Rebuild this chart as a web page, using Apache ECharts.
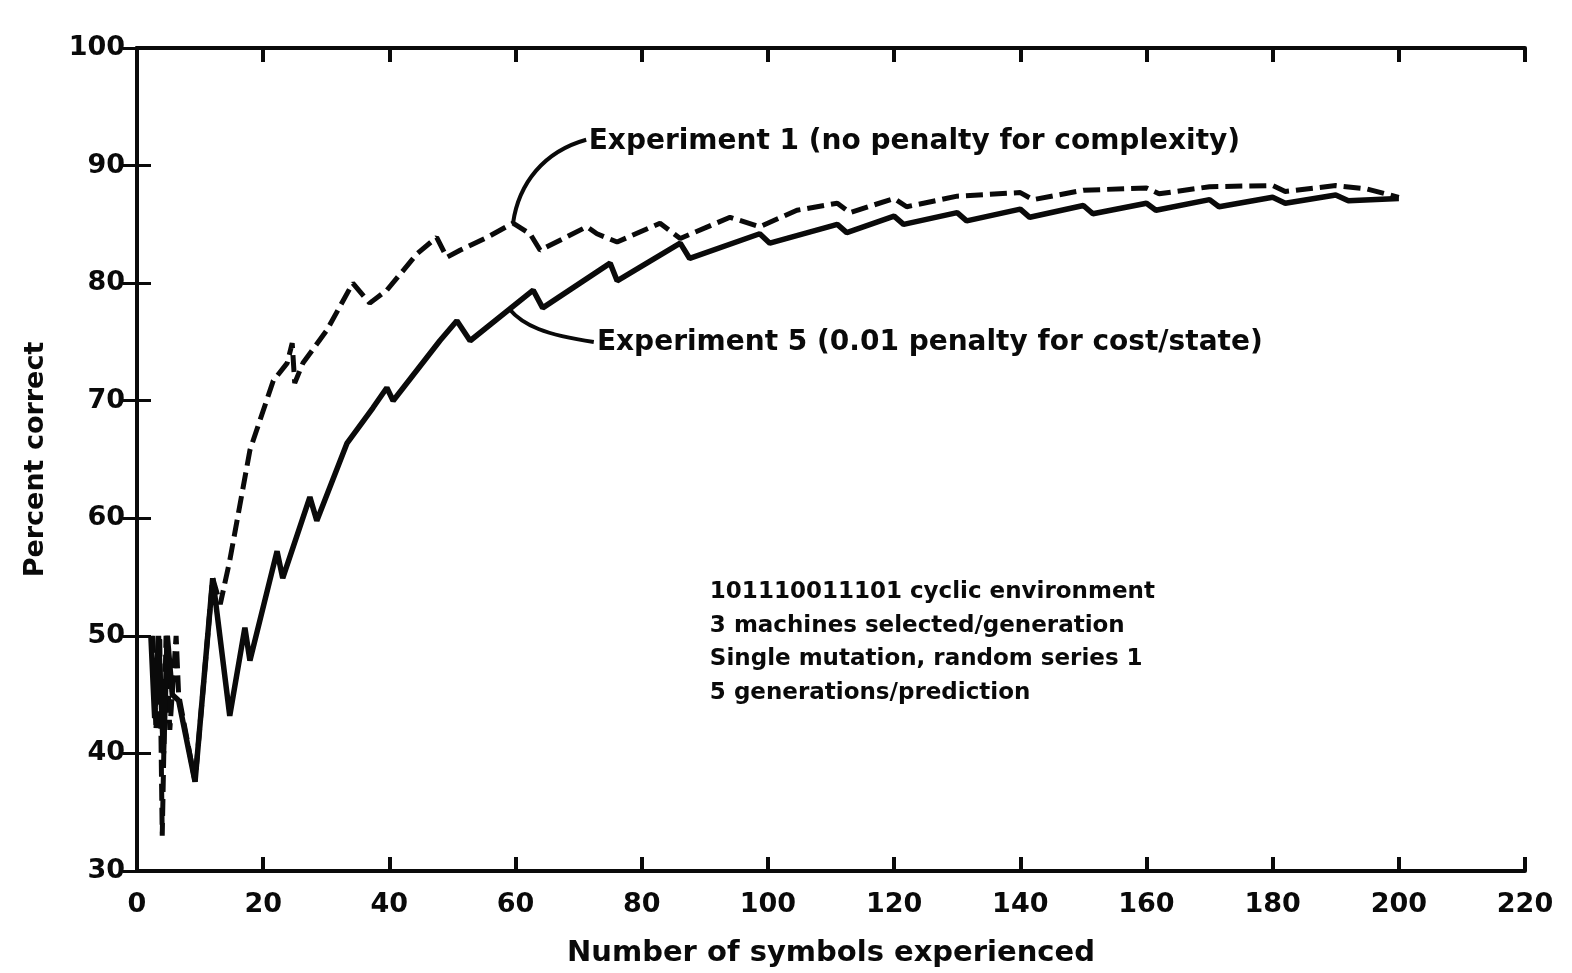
<!DOCTYPE html>
<html>
<head>
<meta charset="utf-8">
<script src="https://cdn.jsdelivr.net/npm/echarts@6/dist/echarts.min.js"></script>
<style>
  html, body { margin: 0; padding: 0; background: #fff; }
  #chart { width: 1572px; height: 973px; }
</style>
</head>
<body>
<div id="chart"></div>
<script>
// experiment 1 (dashed, no penalty)
const exp1X = [2.5, 3, 3.6, 4, 4.6, 5.2, 6.2, 6.6, 9.2, 12.0, 13.2, 14.7, 17.9, 21.6, 23.8, 24.6, 25.0, 26.3, 30.1, 34.2, 36.9, 39.6, 44.4, 47.5, 49.1, 51.2, 55.5, 59.6, 62.3, 63.9, 71.3, 72.9, 76.1, 82.9, 86.1, 94.0, 98.7, 104.6, 111, 113, 120, 122, 130, 140, 142, 150, 160, 162, 170, 180, 182, 190, 195, 200]
const exp1Y = [50, 42, 50, 33, 50, 42, 50, 45, 37.6, 54.9, 52.7, 56.4, 65.8, 71.7, 73.2, 74.9, 71.5, 73.2, 76.0, 80.0, 78.3, 79.4, 82.5, 83.9, 82.2, 82.8, 83.9, 85.1, 84.2, 82.8, 84.8, 84.2, 83.5, 85.1, 83.8, 85.6, 84.8, 86.2, 86.8, 86.0, 87.2, 86.5, 87.4, 87.7, 87.1, 87.9, 88.1, 87.6, 88.2, 88.3, 87.8, 88.3, 88.0, 87.3]

// experiment 5 (solid, 0.01 penalty)
const exp5X = [2.2, 2.8, 3.4, 4.2, 4.8, 5.6, 6.6, 9.2, 12.0, 14.7, 17.1, 17.9, 22.2, 23.1, 27.4, 28.5, 33.3, 37.4, 39.6, 40.6, 48.0, 50.7, 52.8, 62.8, 64.3, 75.0, 76.1, 86.1, 87.6, 98.7, 100.3, 111, 112.5, 120, 121.5, 130, 131.5, 140, 141.5, 150, 151.5, 160, 161.5, 170, 171.5, 180, 182, 190, 192, 200]
const exp5Y = [50, 43, 50, 40, 50, 45, 44.5, 37.6, 54.9, 43.2, 50.7, 47.9, 57.2, 54.9, 61.8, 59.8, 66.4, 69.4, 71.1, 70.0, 75.1, 76.8, 75.1, 79.4, 77.9, 81.7, 80.2, 83.4, 82.1, 84.2, 83.4, 85.0, 84.3, 85.7, 85.0, 86.0, 85.3, 86.3, 85.6, 86.6, 85.9, 86.8, 86.2, 87.1, 86.5, 87.3, 86.8, 87.5, 87.0, 87.2]

const xTicks = [0, 20, 40, 60, 80, 100, 120, 140, 160, 180, 200, 220]
const yTicks = [30, 40, 50, 60, 70, 80, 90, 100]

const noteLines = [
  '101110011101 cyclic environment',
  '3 machines selected/generation',
  'Single mutation, random series 1',
  '5 generations/prediction'
]

const FONT = 'DejaVu Sans'
const INK = '#0a0a0a'

const toPairs = (xs, ys) => xs.map((x, i) => [x, ys[i]])

let chartDom = document.getElementById('chart')
let chart = echarts.init(chartDom, null, { renderer: 'canvas' })

// axis shared look
const axisLine = { show: true, lineStyle: { color: INK, width: 4 } }

let option = {
  animation: false,
  backgroundColor: '#fff',
  grid: { left: 137, right: 47, top: 48, bottom: 101, containLabel: false },
  xAxis: [
    {
      type: 'value', min: 0, max: 220, interval: 20, position: 'bottom',
      name: 'Number of symbols experienced', nameLocation: 'middle', nameGap: 68,
      nameTextStyle: { fontFamily: FONT, fontWeight: 'bold', fontSize: 29, color: INK },
      axisLine: axisLine,
      axisTick: { show: true, inside: true, length: 14, lineStyle: { color: INK, width: 4 } },
      axisLabel: {
        margin: 20, fontFamily: FONT, fontWeight: 'bold', fontSize: 27, color: INK,
        formatter: v => xTicks.includes(v) ? String(v) : ''
      },
      splitLine: { show: false }
    },
    {
      type: 'value', min: 0, max: 220, interval: 20, position: 'top',
      axisLine: axisLine,
      axisTick: { show: true, inside: true, length: 14, lineStyle: { color: INK, width: 4 } },
      axisLabel: { show: false },
      splitLine: { show: false }
    }
  ],
  yAxis: [
    {
      type: 'value', min: 30, max: 100, interval: 10, position: 'left',
      name: 'Percent correct', nameLocation: 'middle', nameGap: 88, nameRotate: 90,
      nameTextStyle: { fontFamily: FONT, fontWeight: 'bold', fontSize: 27, color: INK },
      axisLine: axisLine,
      axisTick: { show: true, inside: true, length: 14, lineStyle: { color: INK, width: 3 } },
      axisLabel: {
        margin: 12, fontFamily: FONT, fontWeight: 'bold', fontSize: 27, color: INK,
        formatter: v => yTicks.includes(v) ? String(v) : ''
      },
      splitLine: { show: false }
    },
    {
      type: 'value', min: 30, max: 100, interval: 10, position: 'right',
      axisLine: axisLine,
      axisTick: { show: true, inside: true, length: 14, lineStyle: { color: INK, width: 3 } },
      axisLabel: { show: false },
      splitLine: { show: false }
    }
  ],
  series: [
    {
      name: 'Experiment 1',
      type: 'line',
      data: toPairs(exp1X, exp1Y),
      symbol: 'none',
      lineStyle: { color: INK, width: 5, type: [17, 7] }
    },
    {
      name: 'Experiment 5',
      type: 'line',
      data: toPairs(exp5X, exp5Y),
      symbol: 'none',
      lineStyle: { color: INK, width: 5.5 }
    }
  ]
}

chart.setOption(option)

// annotations anchored in data space, placed after the axes exist
const px = (x, y) => chart.convertToPixel({ gridIndex: 0 }, [x, y])

function callout (p0, c1, c2, p1) {
  const a = px(...p0), b = px(...c1), c = px(...c2), d = px(...p1)
  return {
    type: 'bezierCurve',
    shape: { x1: a[0], y1: a[1], cpx1: b[0], cpy1: b[1], cpx2: c[0], cpy2: c[1], x2: d[0], y2: d[1] },
    style: { stroke: INK, lineWidth: 4, fill: null }
  }
}

function label (text, at, size) {
  const p = px(...at)
  return {
    type: 'text', x: p[0], y: p[1],
    style: { text: text, fontFamily: FONT, fontWeight: 'bold', fontSize: size, fill: INK, verticalAlign: 'middle' }
  }
}

let graphics = [
  callout([71.2, 92.2], [64.5, 91.2], [60.5, 88.5], [59.6, 85.1]),
  callout([72.4, 75.0], [64.7, 75.6], [61.2, 76.4], [59.0, 77.8]),
  label('Experiment 1 (no penalty for complexity)', [71.6, 92.0], 28),
  label('Experiment 5 (0.01 penalty for cost/state)', [72.9, 74.9], 28)
]
noteLines.forEach((t, i) => {
  graphics.push(label(t, [90.8, 53.7 - i * 2.85], 23))
})

chart.setOption({ graphic: graphics })

window.addEventListener('resize', () => chart.resize(), false)
</script>
</body>
</html>
